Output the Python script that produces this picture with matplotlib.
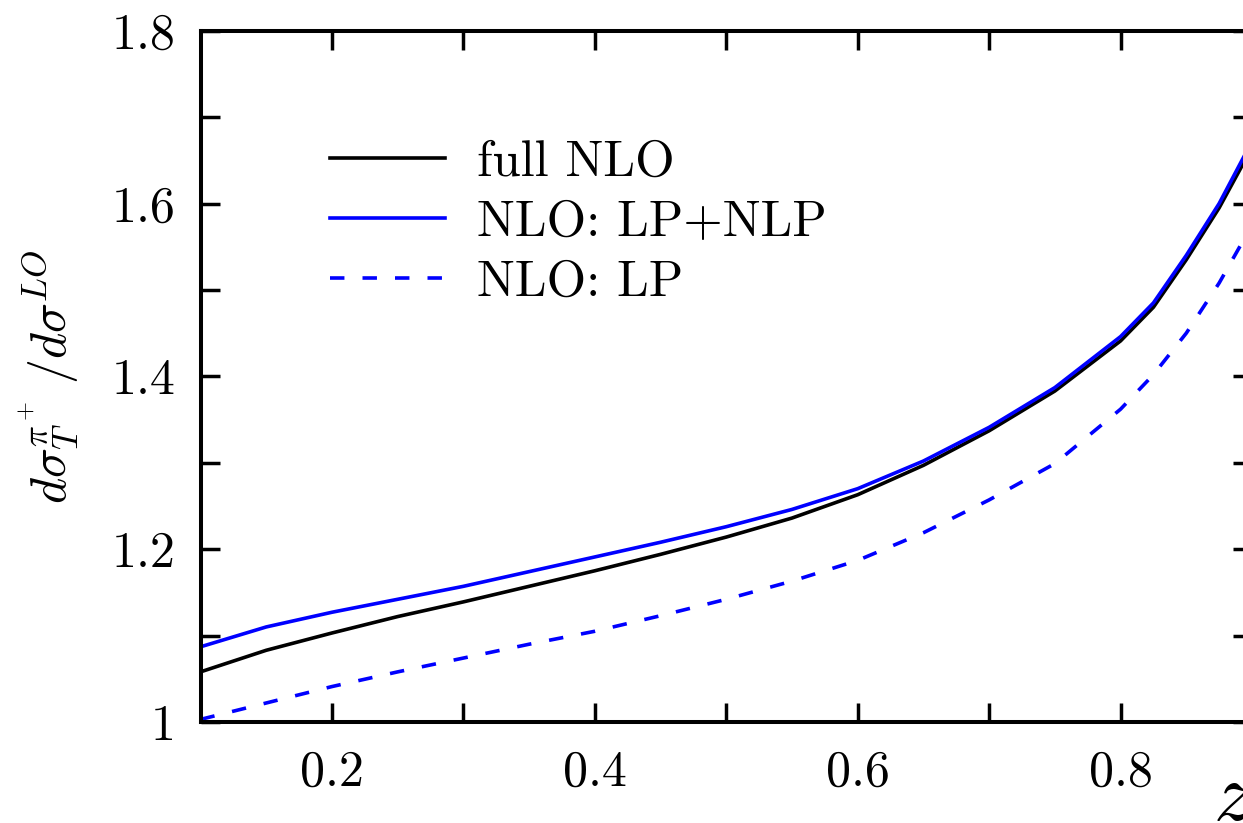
import matplotlib
matplotlib.use("Agg")
import matplotlib.pyplot as plt
from matplotlib.lines import Line2D

plt.rcParams["font.family"] = "cmr10"
plt.rcParams["mathtext.fontset"] = "cm"
plt.rcParams["axes.formatter.use_mathtext"] = True

# z grid and cross-section ratios
z = [0.10, 0.15, 0.20, 0.25, 0.30, 0.35, 0.40, 0.45, 0.50, 0.55,
     0.60, 0.65, 0.70, 0.75, 0.80, 0.825, 0.85, 0.875, 0.90]
full_nlo = [1.058, 1.083, 1.103, 1.122, 1.139, 1.157, 1.175, 1.194, 1.214, 1.236,
            1.263, 1.297, 1.337, 1.383, 1.441, 1.480, 1.535, 1.595, 1.665]
lp_nlp = [1.087, 1.110, 1.127, 1.142, 1.157, 1.174, 1.191, 1.208, 1.226, 1.246,
          1.270, 1.302, 1.341, 1.387, 1.446, 1.485, 1.540, 1.600, 1.672]
lp_only = [1.003, 1.022, 1.041, 1.058, 1.074, 1.090, 1.105, 1.123, 1.142, 1.163,
           1.187, 1.219, 1.257, 1.299, 1.362, 1.402, 1.450, 1.508, 1.575]

series_labels = ["full NLO", "NLO: LP+NLP", "NLO: LP"]
x_ticks = [0.2, 0.3, 0.4, 0.5, 0.6, 0.7, 0.8]
x_tick_labels = ["0.2", "", "0.4", "", "0.6", "", "0.8"]
y_ticks = [1.0, 1.1, 1.2, 1.3, 1.4, 1.5, 1.6, 1.7, 1.8]
y_tick_labels = ["1", "", "1.2", "", "1.4", "", "1.6", "", "1.8"]

W, H = 1243, 823
fig = plt.figure(figsize=(W / 100, H / 100), dpi=100)
ax = fig.add_axes([200.5 / W, (H - 722) / H, (1252 - 200.5) / W, (722 - 30.7) / H])

blue = "#0000ff"
lw = 2.6
dash = (4, 5)
ax.plot(z, full_nlo, color="black", lw=lw, solid_joinstyle="round")
ax.plot(z, lp_nlp, color=blue, lw=lw, solid_joinstyle="round")
ax.plot(z, lp_only, color=blue, lw=lw, dashes=dash)

ax.set_xlim(0.1, 0.9)
ax.set_ylim(1.0, 1.8)
ax.set_xticks(x_ticks)
ax.set_xticklabels(x_tick_labels)
ax.set_yticks(y_ticks)
ax.set_yticklabels(y_tick_labels)

for s in ax.spines.values():
    s.set_linewidth(2.9)
ax.tick_params(direction="in", length=13.5, width=2.5, top=True, right=True,
               labelsize=36)
ax.tick_params(axis="x", pad=20)
ax.tick_params(axis="y", pad=18)

ax.set_ylabel(r"$d\sigma_T^{\pi^+}\,/d\sigma^{LO}$", fontsize=36, labelpad=22)
fig.text(1213 / W, (H - 820) / H, r"$z$", fontsize=60, ha="left", va="baseline")

handles = [
    Line2D([], [], color="black", lw=lw),
    Line2D([], [], color=blue, lw=lw),
    Line2D([], [], color=blue, lw=lw, dashes=dash),
]
ax.legend(handles, series_labels, loc="upper left",
          bbox_to_anchor=(330 / W, (H - 140) / H), bbox_transform=fig.transFigure,
          frameon=False, fontsize=36.5, handlelength=2.27, handletextpad=0.63,
          labelspacing=0.28, borderpad=0, borderaxespad=0)

fig.savefig("out.png", dpi=100)
